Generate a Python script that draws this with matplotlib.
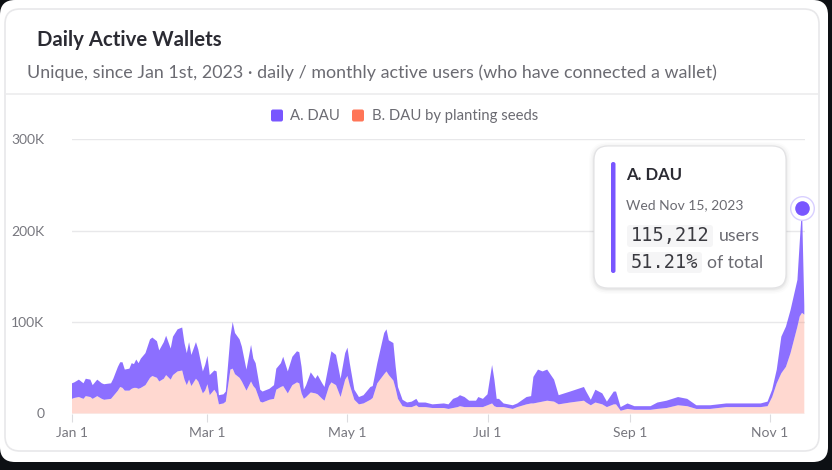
import numpy as np
import pandas as pd
import matplotlib
matplotlib.use("Agg")
import matplotlib.pyplot as plt
from matplotlib.patches import FancyBboxPatch

W, H = 832, 470
PURPLE = "#7856ff"
CORAL = "#ff7557"
FONT = "Lato"

# days since Jan 1st 2023
days = [0,1,3,5,6,8,9,11,13,14,17,18,20,21,22,23,25,26,27,28,29,30,32,34,35,37,38,40,41,43,44,46,48,49,50,51,52,54,55,57,58,59,60,62,63,64,66,67,69,70,71,73,74,76,78,79,80,82,83,86,88,89,
        91,92,94,96,98,99,100,101,102,104,106,107,109,110,112,113,115,117,119,120,121,123,125,127,130,131,133,136,137,138,140,141,142,144,146,148,150,151,154,157,162,164,166,168,169,171,173,176,177,179,181,182,183,184,185,186,188,192,194,198,200,201,203,205,207,210,212,
        217,223,224,226,228,231,233,236,237,239,242,245,252,255,259,264,268,272,278,285,292,300,303,305,307,309,311,313,316,317,318,319]
# top of the stack, thousands
total_k = [33,34,37,33,38,37,31,37,33,32,33,38,51,56,56,48,49,55,54,59,55,60,66,81,83,79,69,78,85,71,84,92,94,77,66,78,64,78,70,46,53,63,42,47,46,20,21,24,84,100,88,81,73,48,75,60,55,26,24,27,31,49,
           55,62,46,62,68,67,51,26,31,45,38,42,33,29,55,68,64,38,66,72,55,26,18,20,29,30,55,88,92,80,77,51,29,15,12,13,16,12,12,10,11,10,16,18,20,18,14,14,18,16,21,37,53,37,16,16,11,9,11,18,19,40,48,46,48,37,20,
           24,29,24,15,26,22,13,24,24,7,11,8,8,12,14,18,16,9,9,11,11,11,13,26,48,84,95,113,146,187,225,118]
# B. DAU by planting seeds, thousands
seeds_k = [16,17,18,16,19,18,16,19,16,15,16,19,25,29,28,25,25,27,28,28,27,28,31,39,41,39,35,38,42,37,42,46,47,37,31,37,30,38,35,22,25,32,20,26,22,10,11,13,48,49,43,39,35,25,35,30,27,13,12,15,16,26,
           29,30,22,31,34,33,22,16,18,23,22,21,16,14,30,34,31,18,37,41,31,15,10,11,15,17,33,43,46,42,36,27,16,8,7,7,9,7,7,6,6,5,6,7,8,7,7,7,7,7,9,10,11,8,7,7,7,5,7,10,11,11,12,13,14,13,10,
           12,14,12,9,12,10,7,10,10,3,5,4,4,5,6,9,8,5,5,7,7,7,8,18,33,44,51,66,95,106,110,108]

y_ticks = [0, 100000, 200000, 300000]
y_labels = ["0", "100K", "200K", "300K"]
x_tick_dates = ["2023-01-01", "2023-03-01", "2023-05-01", "2023-07-01", "2023-09-01", "2023-11-01"]
x_labels = ["Jan 1", "Mar 1", "May 1", "Jul 1", "Sep 1", "Nov 1"]

dates = pd.Timestamp("2023-01-01") + pd.to_timedelta(days, unit="D")
b_dau = np.array(seeds_k) * 1000
a_dau = np.array(total_k) * 1000 - b_dau

fig = plt.figure(figsize=(W / 100, H / 100), dpi=100, facecolor="#0d1014")

# background layer in pixel coordinates
bg = fig.add_axes([0, 0, 1, 1])
bg.set_xlim(0, W)
bg.set_ylim(H, 0)
bg.axis("off")
bg.add_patch(FancyBboxPatch((0, 0), 828, 462, boxstyle="round,pad=0,rounding_size=15", fc="white", ec="none"))
bg.add_patch(FancyBboxPatch((5, 9), 814, 442, boxstyle="round,pad=0,rounding_size=15", fc="white", ec="#e8e8ea", lw=1.2))
bg.plot([5, 819], [94, 94], color="#ececee", lw=1.2)

bg.text(37, 40, "Daily Active Wallets", fontsize=14.65, fontweight="bold", color="#2b2b33", family=FONT, va="center")
bg.text(27, 73, "Unique, since Jan 1st, 2023 \u00b7 daily / monthly active users (who have connected a wallet)",
        fontsize=12.9, color="#6b6b72", family=FONT, va="center")

# legend
bg.add_patch(FancyBboxPatch((271, 109.5), 12, 12, boxstyle="round,pad=0,rounding_size=2", fc=PURPLE, ec="none"))
bg.text(290, 116, "A. DAU", fontsize=10.7, color="#6b6b72", family=FONT, va="center")
bg.add_patch(FancyBboxPatch((352, 109.5), 12, 12, boxstyle="round,pad=0,rounding_size=2", fc=CORAL, ec="none"))
bg.text(372, 116, "B. DAU by planting seeds", fontsize=10.7, color="#6b6b72", family=FONT, va="center")

# main chart
x0, x1, y0, y1 = 72, 805, 139, 413.5
ax = fig.add_axes([x0 / W, 1 - y1 / H, (x1 - x0) / W, (y1 - y0) / H])
ax.patch.set_alpha(0)
ax.stackplot(dates, b_dau, a_dau, colors=[CORAL, PURPLE], alpha=1, linewidth=0)
ax.collections[0].set_alpha(0.28)
ax.collections[1].set_alpha(0.85)
ax.set_xlim(dates[0], pd.Timestamp("2023-01-01") + pd.Timedelta(days=319.3))
ax.set_ylim(0, 300000)
ax.set_yticks(y_ticks, y_labels)
ax.set_xticks(pd.to_datetime(x_tick_dates), x_labels)
ax.grid(axis="y", color="#e8e8ea", lw=1)
ax.set_axisbelow(True)
for s in ax.spines.values():
    s.set_visible(False)
ax.tick_params(axis="y", length=0, pad=20, labelsize=10, labelcolor="#77777e")
ax.tick_params(axis="x", length=6, width=0.8, color="#dcdcdf", pad=4, labelsize=10, labelcolor="#77777e")
for lab in ax.get_xticklabels() + ax.get_yticklabels():
    lab.set_family(FONT)

# tooltip layer on top
top = fig.add_axes([0, 0, 1, 1])
top.set_xlim(0, W)
top.set_ylim(H, 0)
top.axis("off")
top.patch.set_alpha(0)
for grow, a in [(5, 0.012), (3.5, 0.018), (2, 0.025), (1, 0.035)]:
    top.add_patch(FancyBboxPatch((594 - grow, 146 - grow + 1), 192 + 2 * grow, 142 + 2 * grow,
                                 boxstyle="round,pad=0,rounding_size=%g" % (14 + grow), fc="black", ec="none", alpha=a))
top.add_patch(FancyBboxPatch((594, 146), 192, 142, boxstyle="round,pad=0,rounding_size=14", fc="white", ec="#e2e2e4", lw=0.8))
top.add_patch(FancyBboxPatch((611, 162), 4.5, 111, boxstyle="round,pad=0,rounding_size=2.2", fc=PURPLE, ec="none"))
top.text(626.5, 175.5, "A. DAU", fontsize=12, fontweight="bold", color="#2b2b33", family=FONT, va="center")
top.text(626.5, 205, "Wed Nov 15, 2023", fontsize=10, color="#6b6b72", family=FONT, va="center")
top.add_patch(FancyBboxPatch((627, 225), 86, 22, boxstyle="round,pad=0,rounding_size=3", fc="#f5f5f6", ec="none"))
top.add_patch(FancyBboxPatch((627, 252), 75, 21, boxstyle="round,pad=0,rounding_size=3", fc="#f5f5f6", ec="none"))
top.text(631, 236, "115,212", fontsize=13.4, color="#3a3a40", family="DejaVu Sans Mono", va="center")
top.text(631, 262.5, "51.21%", fontsize=13.4, color="#3a3a40", family="DejaVu Sans Mono", va="center")
top.text(719, 236, "users", fontsize=12.7, color="#6b6b72", family=FONT, va="center")
top.text(707, 262.5, "of total", fontsize=12.7, color="#6b6b72", family=FONT, va="center")

# hover marker on the Nov 15 point
hover = days.index(318)
ax.plot(dates[hover], total_k[hover] * 1000, "o", ms=17, mfc="white", mec="#d9d0ff", mew=1, clip_on=False, zorder=5)
ax.plot(dates[hover], total_k[hover] * 1000, "o", ms=10.5, mfc=PURPLE, mec="none", clip_on=False, zorder=6)

fig.savefig("out.png", dpi=100, facecolor=fig.get_facecolor())
